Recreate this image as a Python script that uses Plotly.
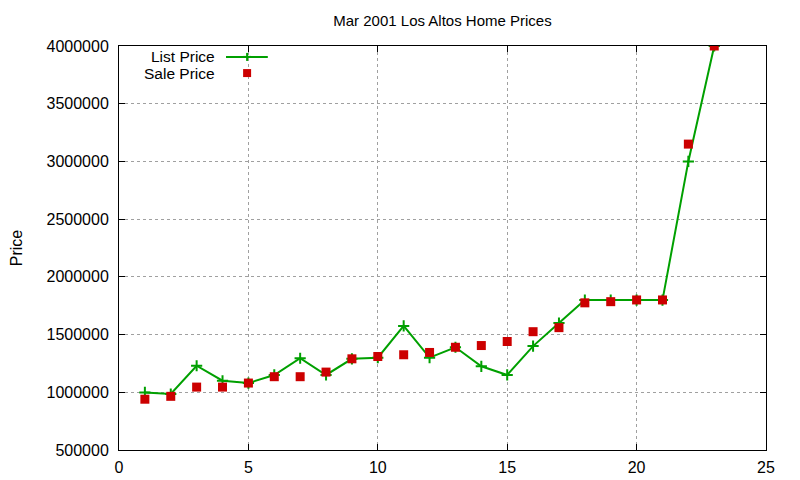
import plotly.graph_objects as go

GREEN = "#00a000"
RED = "#cc0000"
FONT = "Liberation Sans, Arial, sans-serif"

listing = list(range(1, 24))
list_price = [999000, 985000, 1230000, 1100000, 1080000, 1150000, 1295000, 1150000,
              1290000, 1300000, 1575000, 1300000, 1390000, 1225000, 1150000, 1400000,
              1600000, 1799000, 1799000, 1799000, 1799000, 3000000, 4000000]
sale_price = [940000, 965000, 1045000, 1045000, 1080000, 1135000, 1135000, 1175000,
              1290000, 1310000, 1325000, 1345000, 1390000, 1405000, 1440000, 1525000,
              1560000, 1775000, 1785000, 1800000, 1800000, 3150000, 4000000]
series_names = ["List Price", "Sale Price"]

fig = go.Figure()
fig.add_trace(go.Scatter(
    x=listing, y=list_price, mode="lines+markers", name=series_names[0],
    line=dict(color=GREEN, width=2),
    marker=dict(symbol="cross-thin", size=8, line=dict(color=GREEN, width=2)),
))
fig.add_trace(go.Scatter(
    x=listing, y=sale_price, mode="markers", name=series_names[1],
    marker=dict(symbol="square", size=9, color=RED),
))

axis_style = dict(
    showline=True, linecolor="black", linewidth=1, mirror="ticks",
    ticks="inside", ticklen=6, tickcolor="black",
    showgrid=True, gridcolor="#a0a0a0", griddash="dot", gridwidth=1,
    zeroline=False, automargin=False,
    tickfont=dict(size=16, color="black", family=FONT),
)
fig.update_xaxes(range=[0, 25], dtick=5, ticklabelstandoff=3, **axis_style)
fig.update_yaxes(range=[500000, 4000000], dtick=500000, tickformat="d",
                 ticklabelstandoff=6,
                 title=dict(text="Price", font=dict(size=16, family=FONT), standoff=26),
                 **axis_style)

# gnuplot-style key: text on the left, sample on the right
legend_items = [(series_names[0], 0.973), (series_names[1], 0.933)]
annotations = []
for name, ypos in legend_items:
    annotations.append(dict(text=name, xref="paper", yref="paper", x=0.152, y=ypos,
                            xanchor="right", yanchor="middle", showarrow=False,
                            font=dict(size=15.5, color="black", family=FONT)))
shapes = [
    dict(type="line", xref="paper", yref="paper", x0=0.1654, x1=0.230, y0=0.973, y1=0.973,
         line=dict(color=GREEN, width=2)),
    dict(type="line", xref="paper", yref="paper", xsizemode="pixel", ysizemode="pixel",
         xanchor=0.198, yanchor=0.973, x0=-4, x1=4, y0=0, y1=0, line=dict(color=GREEN, width=2)),
    dict(type="line", xref="paper", yref="paper", xsizemode="pixel", ysizemode="pixel",
         xanchor=0.198, yanchor=0.973, x0=0, x1=0, y0=-4, y1=4, line=dict(color=GREEN, width=2)),
    dict(type="rect", xref="paper", yref="paper", xsizemode="pixel", ysizemode="pixel",
         xanchor=0.198, yanchor=0.933, x0=-4, x1=4, y0=-4, y1=4,
         fillcolor=RED, line=dict(width=0)),
]

fig.update_layout(
    width=800, height=480,
    margin=dict(l=111, r=42, t=38, b=38),
    title=dict(text="Mar 2001 Los Altos Home Prices", x=0.5, xref="paper",
               y=1 - 13 / 480, yanchor="middle",
               font=dict(size=15, color="black", family=FONT)),
    plot_bgcolor="white", paper_bgcolor="white",
    showlegend=False,
    annotations=annotations, shapes=shapes,
    font=dict(family=FONT, color="black"),
)

fig.write_html("out.html")
